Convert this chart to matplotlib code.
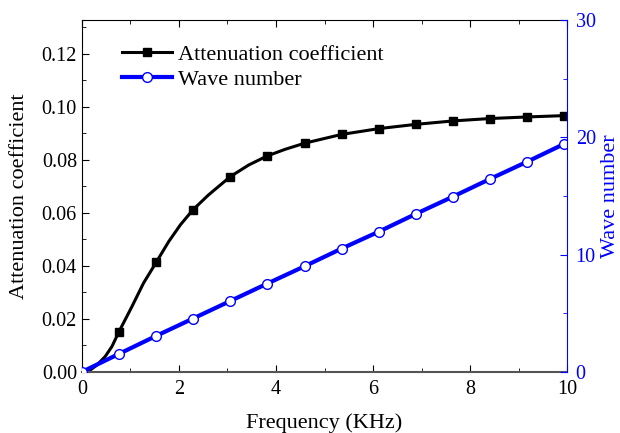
import matplotlib
matplotlib.use('Agg')
import matplotlib.pyplot as plt
from matplotlib.ticker import MultipleLocator, FormatStrFormatter

plt.rcParams['font.family'] = ['Liberation Serif', 'DejaVu Serif']

# values (curve samples plus the marked points)
freq = [0.12, 0.31, 0.48, 0.62, 0.76, 1.03, 1.27, 1.53, 1.79, 2.03, 2.29, 2.61, 3.06,
        3.44, 3.82, 4.19, 4.59, 5.35, 6.12, 6.88, 7.65, 8.41, 9.18, 9.94]
atten = [0.0, 0.0026, 0.0058, 0.0096, 0.0150, 0.0246, 0.0335, 0.0413, 0.0492, 0.0555,
         0.0612, 0.0668, 0.0737, 0.0781, 0.0815, 0.0840, 0.0863, 0.0896, 0.0918, 0.0934,
         0.0947, 0.0956, 0.0962, 0.0967]
marked = [0.76, 1.53, 2.29, 3.06, 3.82, 4.59, 5.35, 6.12, 6.88, 7.65, 8.41, 9.18, 9.94]
wfreq = [0.0, 0.76, 1.53, 2.29, 3.06, 3.82, 4.59, 5.35, 6.12, 6.88, 7.65, 8.41, 9.18, 9.94]
wave = [0.0, 1.53, 3.07, 4.55, 6.05, 7.53, 9.01, 10.51, 11.96, 13.47, 14.95, 16.45, 17.93, 19.44]

fig = plt.figure(figsize=(6.2, 4.33), dpi=100)
ax = fig.add_axes([0.132, 0.141, 0.783, 0.813])
ax2 = ax.twinx()

mark_idx = [freq.index(f) for f in marked]
l1, = ax.plot(freq, atten, color='black', lw=2.2, marker='s', ms=6,
              markevery=mark_idx, label='Attenuation coefficient')
l2, = ax2.plot(wfreq, wave, color='blue', lw=3, marker='o', ms=7, mfc='white',
               mec='blue', mew=1, label='Wave number')

ax.set_xlim(0, 10)
ax.set_ylim(0, 0.1328)
ax2.set_ylim(0, 30)
ax.xaxis.set_major_locator(MultipleLocator(2))
ax.xaxis.set_minor_locator(MultipleLocator(1))
ax.yaxis.set_major_locator(MultipleLocator(0.02))
ax.yaxis.set_minor_locator(MultipleLocator(0.01))
ax.yaxis.set_major_formatter(FormatStrFormatter('%.2f'))
ax2.yaxis.set_major_locator(MultipleLocator(10))
ax2.yaxis.set_minor_locator(MultipleLocator(5))

ax.tick_params(which='both', direction='in', top=True, labelsize=14.5)
ax.tick_params(which='major', length=5)
ax.tick_params(which='minor', length=3)
ax.tick_params(axis='x', pad=6)
ax2.tick_params(which='both', direction='in', colors='blue', labelsize=14.5)
ax2.tick_params(which='major', length=5)
ax2.tick_params(which='minor', length=3)
ax2.tick_params(axis='y', pad=6)
ax2.spines['right'].set_color('blue')
for s in ['left', 'top', 'bottom']:
    ax2.spines[s].set_visible(False)
ax.spines['right'].set_visible(False)
ax.spines['bottom'].set_color('#555555')
ax.spines['bottom'].set_linewidth(1.5)

ax.set_xlabel('Frequency (KHz)', fontsize=16, labelpad=10)
ax.set_ylabel('Attenuation coefficient', fontsize=16, labelpad=9)
ax2.set_ylabel('Wave number', fontsize=16, color='blue', labelpad=4)

ax.legend([l1, l2], ['Attenuation coefficient', 'Wave number'], loc='upper left',
          bbox_to_anchor=(0.064, 0.955), frameon=False, fontsize=16, handlelength=2.25,
          handletextpad=0.27, labelspacing=0.2, borderaxespad=0)

fig.savefig('out.png', dpi=100)
